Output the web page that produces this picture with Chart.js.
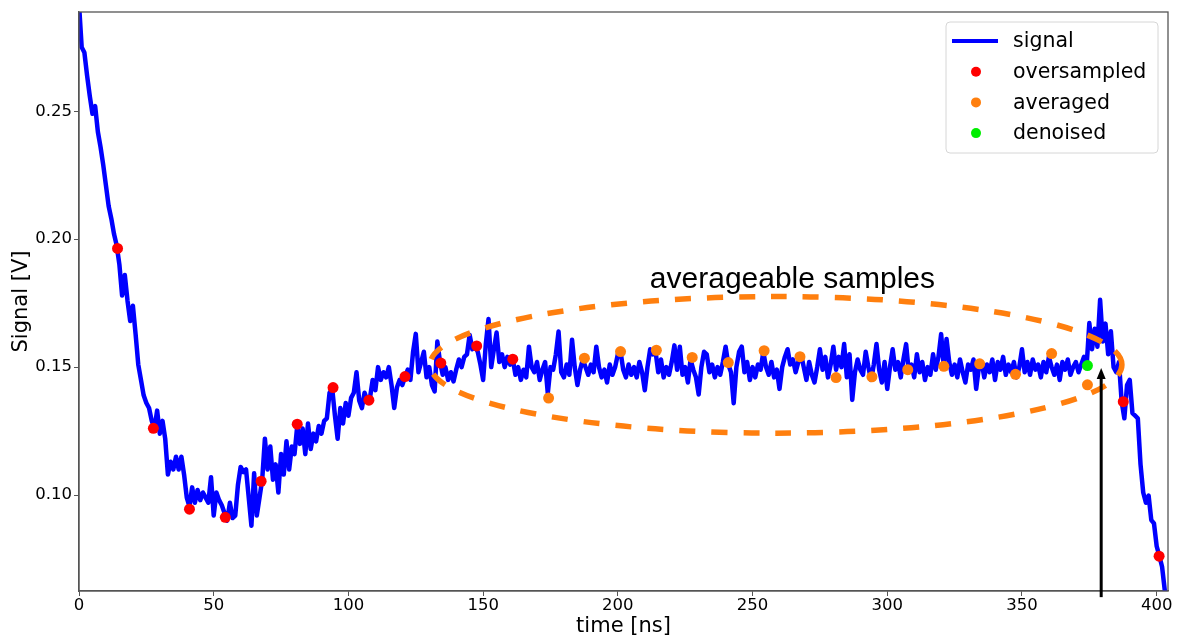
<!DOCTYPE html>
<html>
<head>
<meta charset="utf-8">
<script src="https://cdn.jsdelivr.net/npm/chart.js@4"></script>
<style>
  html, body { margin: 0; padding: 0; background: #fff; }
  #chart { display: block; }
</style>
</head>
<body>
<canvas id="chart" width="1179" height="640"></canvas>
<script>
// signal sampled every 1 ns, from 0 to 404 ns
const signalStep = 1;
const signalValues = [
  0.292, 0.275, 0.273, 0.264, 0.256, 0.249, 0.252, 0.242, 0.236, 0.229,
  0.221, 0.213, 0.208, 0.202, 0.1975, 0.190, 0.178, 0.186, 0.176, 0.168,
  0.174, 0.163, 0.151, 0.145, 0.139, 0.136, 0.134, 0.129, 0.126, 0.133,
  0.124, 0.129, 0.122, 0.108, 0.113, 0.110, 0.115, 0.110, 0.115, 0.108,
  0.099, 0.0955, 0.103, 0.097, 0.102, 0.098, 0.101, 0.099, 0.097, 0.107,
  0.092, 0.101, 0.098, 0.096, 0.093, 0.090, 0.097, 0.091, 0.092, 0.104,
  0.111, 0.109, 0.110, 0.099, 0.088, 0.1085, 0.092, 0.099, 0.106, 0.122,
  0.110, 0.119, 0.106, 0.112, 0.101, 0.116, 0.108, 0.121, 0.110, 0.119,
  0.116, 0.127, 0.120, 0.126, 0.116, 0.128, 0.118, 0.124, 0.121, 0.127,
  0.124, 0.129, 0.130, 0.140, 0.1415, 0.131, 0.122, 0.134, 0.128, 0.136,
  0.131, 0.138, 0.140, 0.148, 0.137, 0.134, 0.140, 0.137, 0.138, 0.145,
  0.141, 0.150, 0.145, 0.148, 0.146, 0.150, 0.143, 0.134, 0.142, 0.145,
  0.143, 0.146, 0.149, 0.145, 0.156, 0.163, 0.148, 0.152, 0.156, 0.146,
  0.150, 0.143, 0.1405, 0.160, 0.152, 0.147, 0.150, 0.145, 0.148, 0.1444,
  0.149, 0.153, 0.150, 0.154, 0.155, 0.1626, 0.157, 0.158, 0.156, 0.151,
  0.145, 0.159, 0.1688, 0.150, 0.157, 0.1635, 0.152, 0.155, 0.150, 0.154,
  0.151, 0.153, 0.147, 0.150, 0.145, 0.149, 0.146, 0.158, 0.150, 0.148,
  0.152, 0.145, 0.149, 0.152, 0.1398, 0.150, 0.149, 0.155, 0.1639, 0.148,
  0.146, 0.151, 0.147, 0.1607, 0.150, 0.143, 0.149, 0.153, 0.150, 0.147,
  0.151, 0.148, 0.158, 0.150, 0.146, 0.149, 0.144, 0.151, 0.147, 0.150,
  0.155, 0.156, 0.149, 0.146, 0.151, 0.147, 0.150, 0.146, 0.152, 0.148,
  0.141, 0.150, 0.157, 0.155, 0.156, 0.148, 0.153, 0.146, 0.150, 0.147,
  0.152, 0.1585, 0.149, 0.158, 0.147, 0.150, 0.144, 0.153, 0.149, 0.146,
  0.1393, 0.150, 0.156, 0.155, 0.148, 0.151, 0.146, 0.150, 0.147, 0.152,
  0.158, 0.151, 0.148, 0.1359, 0.150, 0.156, 0.158, 0.148, 0.152, 0.145,
  0.150, 0.146, 0.151, 0.149, 0.156, 0.150, 0.147, 0.152, 0.146, 0.149,
  0.1415, 0.150, 0.154, 0.157, 0.151, 0.153, 0.148, 0.152, 0.155, 0.150,
  0.145, 0.152, 0.147, 0.144, 0.150, 0.157, 0.149, 0.154, 0.146, 0.151,
  0.158, 0.149, 0.154, 0.150, 0.159, 0.146, 0.155, 0.1372, 0.148, 0.153,
  0.149, 0.147, 0.156, 0.150, 0.145, 0.151, 0.159, 0.149, 0.144, 0.152,
  0.1415, 0.150, 0.157, 0.149, 0.152, 0.146, 0.153, 0.159, 0.148, 0.151,
  0.146, 0.155, 0.148, 0.152, 0.145, 0.150, 0.147, 0.155, 0.149, 0.154,
  0.1629, 0.150, 0.161, 0.152, 0.147, 0.151, 0.146, 0.153, 0.148, 0.144,
  0.151, 0.149, 0.153, 0.1415, 0.150, 0.152, 0.146, 0.151, 0.148, 0.153,
  0.145, 0.152, 0.149, 0.154, 0.147, 0.151, 0.148, 0.152, 0.146, 0.150,
  0.157, 0.148, 0.152, 0.147, 0.153, 0.149, 0.151, 0.146, 0.152, 0.148,
  0.154, 0.150, 0.147, 0.151, 0.145, 0.152, 0.149, 0.153, 0.147, 0.150,
  0.152, 0.148, 0.151, 0.154, 0.1506, 0.1672, 0.157, 0.165, 0.158, 0.1763,
  0.160, 0.167, 0.155, 0.164, 0.150, 0.148, 0.152, 0.1365, 0.130, 0.143,
  0.145, 0.132, 0.131, 0.130, 0.112, 0.101, 0.097, 0.0998, 0.0902, 0.0889,
  0.080, 0.0761, 0.072, 0.0628, 0.055,
];

const oversampledTimes = [14.3, 27.6, 41.0, 54.3, 67.6, 81.0, 94.3, 107.6, 121.0, 134.3, 147.6, 161.0, 387.6, 400.9];
const oversampledValues = [0.1964, 0.1261, 0.0945, 0.0913, 0.1054, 0.1277, 0.142, 0.1371, 0.1463, 0.1516, 0.1583, 0.1531, 0.1365, 0.0761];

const averagedTimes = [174.3, 187.6, 201.0, 214.3, 227.6, 241.0, 254.3, 267.6, 281.0, 294.3, 307.6, 321.0, 334.3, 347.6, 361.0, 374.3];
const averagedValues = [0.1379, 0.1535, 0.1561, 0.1566, 0.1538, 0.1518, 0.1564, 0.1541, 0.1459, 0.1462, 0.149, 0.1503, 0.1513, 0.1472, 0.1553, 0.1431];

const denoisedTimes = [374.3];
const denoisedValues = [0.1506];

const xTicks = [0, 50, 100, 150, 200, 250, 300, 350, 400];
const yTicks = [0.10, 0.15, 0.20, 0.25];

// annotation geometry, in data units
const ellipseCenter = [258.7, 0.1509];
const ellipseRadii = [128.4, 0.0267];
const arrowX = 379.4;
const arrowFrom = 0.0601;
const arrowTo = 0.1497;
const noteText = 'averageable samples';
const notePos = [264.8, 0.1809];

const FONT = "'DejaVu Sans', sans-serif";

const toPoints = (xs, ys) => xs.map((x, i) => ({ x, y: ys[i] }));

const data = {
  datasets: [
    {
      label: 'signal',
      data: signalValues.map((v, i) => ({ x: i * signalStep, y: v })),
      borderColor: '#0000ff',
      borderWidth: 4.5,
      borderJoinStyle: 'round',
      pointRadius: 0,
      tension: 0,
      order: 4,
    },
    {
      label: 'oversampled',
      data: toPoints(oversampledTimes, oversampledValues),
      showLine: false,
      backgroundColor: '#ff0000',
      pointBorderWidth: 0,
      pointRadius: 5.5,
      order: 3,
    },
    {
      label: 'averaged',
      data: toPoints(averagedTimes, averagedValues),
      showLine: false,
      backgroundColor: '#ff7f0e',
      pointBorderWidth: 0,
      pointRadius: 5.5,
      order: 2,
    },
    {
      label: 'denoised',
      data: toPoints(denoisedTimes, denoisedValues),
      showLine: false,
      backgroundColor: '#00ee00',
      pointBorderWidth: 0,
      pointRadius: 5.5,
      order: 1,
    },
  ],
};

const annotations = {
  id: 'annotations',
  afterDatasetDraw(chart, args) {
    // dashed ellipse sits above the signal but under the sample dots
    if (args.index !== 0) return;
    const { ctx, scales: { x, y } } = chart;
    const cx = x.getPixelForValue(ellipseCenter[0]);
    const cy = y.getPixelForValue(ellipseCenter[1]);
    const rx = x.getPixelForValue(ellipseCenter[0] + ellipseRadii[0]) - cx;
    const ry = cy - y.getPixelForValue(ellipseCenter[1] + ellipseRadii[1]);
    ctx.save();
    ctx.strokeStyle = '#ff7f0e';
    ctx.lineWidth = 5.5;
    ctx.setLineDash([16, 16]);
    ctx.beginPath();
    ctx.ellipse(cx, cy, rx, ry, 0, 0, Math.PI * 2, true);
    ctx.stroke();
    ctx.restore();
  },
  afterDraw(chart) {
    const { ctx, chartArea: area, scales: { x, y } } = chart;
    ctx.save();

    // frame
    ctx.strokeStyle = '#555';
    ctx.lineWidth = 1.3;
    ctx.strokeRect(area.left, area.top, area.right - area.left, area.bottom - area.top);

    // text
    ctx.fillStyle = '#000';
    ctx.font = "30px 'Liberation Sans', Arial, sans-serif";
    ctx.textAlign = 'center';
    ctx.textBaseline = 'alphabetic';
    ctx.fillText(noteText, x.getPixelForValue(notePos[0]), y.getPixelForValue(notePos[1]));

    // arrow
    const ax = x.getPixelForValue(arrowX);
    const y0 = y.getPixelForValue(arrowFrom);
    const y1 = y.getPixelForValue(arrowTo);
    ctx.strokeStyle = '#000';
    ctx.lineWidth = 3;
    ctx.beginPath();
    ctx.moveTo(ax, y0);
    ctx.lineTo(ax, y1 + 8);
    ctx.stroke();
    ctx.beginPath();
    ctx.moveTo(ax, y1);
    ctx.lineTo(ax - 4.5, y1 + 11);
    ctx.lineTo(ax + 4.5, y1 + 11);
    ctx.closePath();
    ctx.fill();

    // legend
    const w = 212, h = 131;
    const lx = area.right - 10 - w;
    const ly = area.top + 10;
    ctx.fillStyle = 'rgba(255,255,255,0.8)';
    ctx.strokeStyle = '#d6d6d6';
    ctx.lineWidth = 1;
    ctx.beginPath();
    ctx.roundRect(lx, ly, w, h, 4);
    ctx.fill();
    ctx.stroke();
    ctx.font = '20.5px ' + FONT;
    ctx.textAlign = 'left';
    ctx.textBaseline = 'middle';
    data.datasets.forEach((ds, i) => {
      const ry = ly + 19 + i * 30.7;
      if (i === 0) {
        ctx.strokeStyle = ds.borderColor;
        ctx.lineWidth = 4;
        ctx.beginPath();
        ctx.moveTo(lx + 6, ry);
        ctx.lineTo(lx + 52, ry);
        ctx.stroke();
      } else {
        ctx.fillStyle = ds.backgroundColor;
        ctx.beginPath();
        ctx.arc(lx + 30, ry, 5, 0, Math.PI * 2);
        ctx.fill();
      }
      ctx.fillStyle = '#000';
      ctx.fillText(ds.label, lx + 67, ry + 1);
    });
    ctx.restore();
  },
};

const config = {
  type: 'line',
  data,
  options: {
    responsive: false,
    animation: false,
    layout: {
      padding: { left: 0, top: 12, right: 11, bottom: 0 },
    },
    scales: {
      x: {
        type: 'linear',
        min: 0,
        max: 404.2,
        afterBuildTicks: (scale) => {
          scale.ticks = xTicks.map((v) => ({ value: v }));
        },
        afterFit: (scale) => {
          scale.height = 49;
        },
        ticks: {
          autoSkip: false,
          maxRotation: 0,
          padding: 0,
          color: '#000',
          font: { family: FONT, size: 16.5 },
          callback: (value) => String(value),
        },
        grid: { drawOnChartArea: false, drawTicks: true, tickLength: 5, color: '#555' },
        border: { display: true, color: '#555', width: 1.3 },
        title: {
          display: true,
          text: 'time [ns]',
          color: '#000',
          font: { family: FONT, size: 21 },
          padding: { top: 0, bottom: 1 },
        },
      },
      y: {
        min: 0.0625,
        max: 0.2888,
        afterBuildTicks: (scale) => {
          scale.ticks = yTicks.map((v) => ({ value: v }));
        },
        afterFit: (scale) => {
          scale.width = 79;
        },
        ticks: {
          padding: 2,
          color: '#000',
          font: { family: FONT, size: 16.5 },
          callback: (value) => value.toFixed(2),
        },
        grid: { drawOnChartArea: false, drawTicks: true, tickLength: 5, color: '#555' },
        border: { display: true, color: '#555', width: 1.3 },
        title: {
          display: true,
          text: 'Signal [V]',
          color: '#000',
          font: { family: FONT, size: 21 },
          padding: { top: 9, bottom: 0 },
        },
      },
    },
    plugins: {
      legend: { display: false },
      tooltip: { enabled: false },
    },
  },
  plugins: [annotations],
};

new Chart(document.getElementById('chart'), config);
</script>
</body>
</html>
